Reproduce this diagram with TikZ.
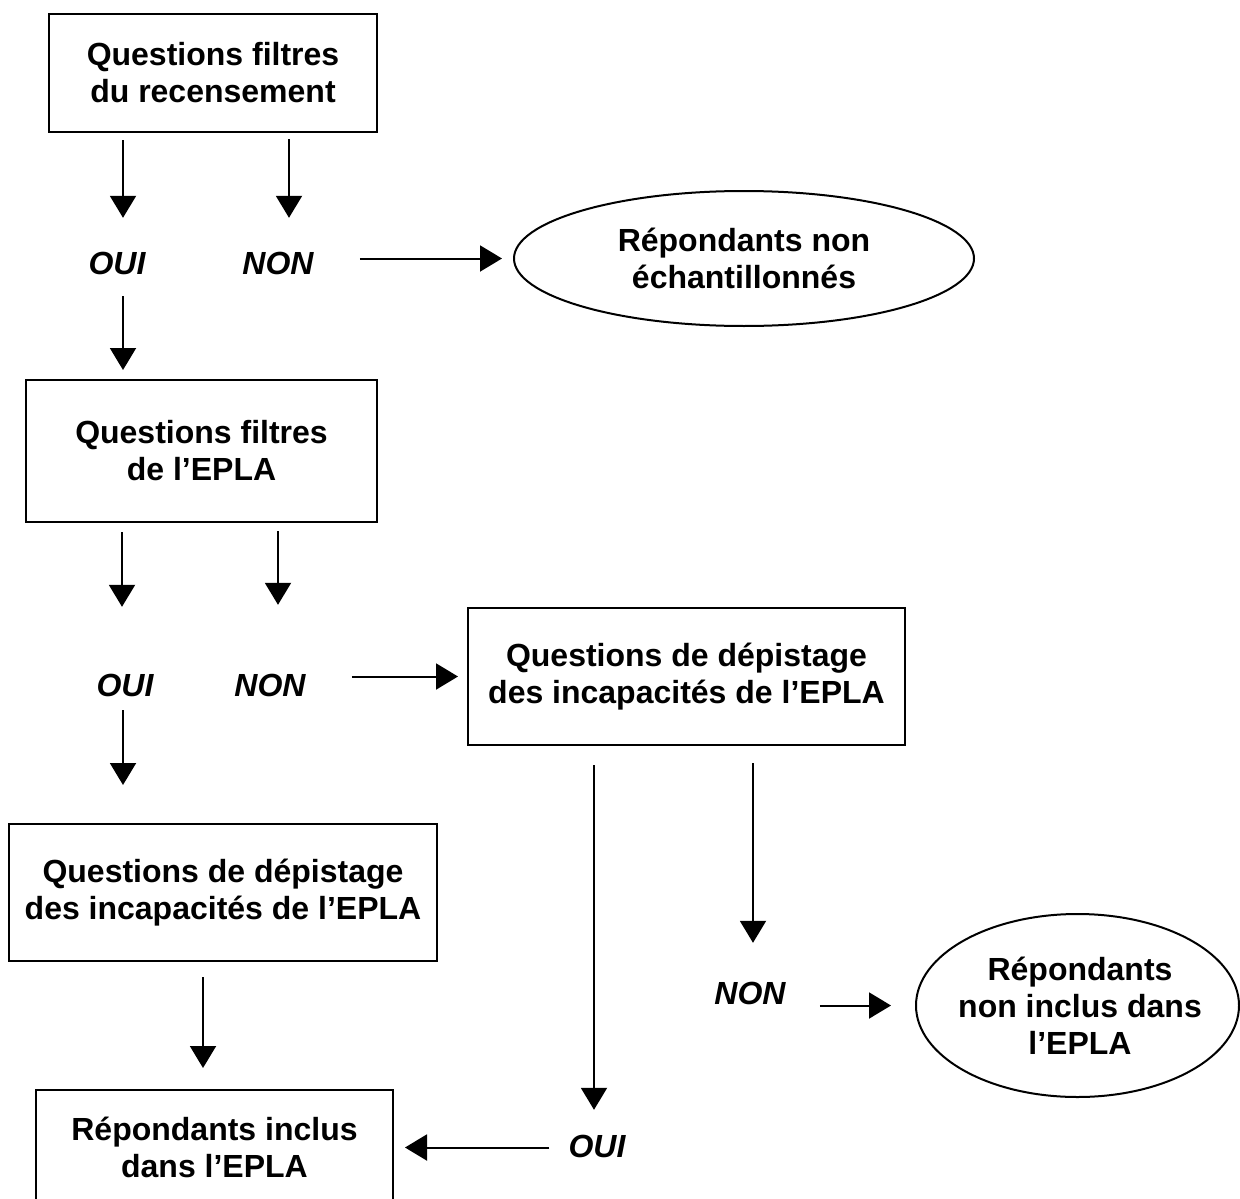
\documentclass[tikz,border=0pt]{standalone}
\usepackage{fontspec}
\setmainfont{Liberation Sans}
\usetikzlibrary{arrows.meta,shapes.geometric}
\begin{document}
\begin{tikzpicture}[x=1pt,y=-1pt,
  font=\fontsize{32}{37}\selectfont\bfseries,
  box/.style={draw,line width=2pt,rectangle,outer sep=0pt,inner sep=0pt,align=center},
  oval/.style={draw,line width=2pt,ellipse,outer sep=0pt,inner sep=0pt,align=center},
  lbl/.style={inner sep=0pt,text height=22pt,text depth=0pt,font=\fontsize{32}{37}\selectfont\bfseries\itshape},
  arr/.style={line width=2pt,-{Triangle[width=26pt,length=22pt]}}]
\useasboundingbox (0,0) rectangle (1240,1199);
% boxes
\node[box,minimum width=328pt,minimum height=118pt] (b1) at (213,73) {Questions filtres\\du recensement};
\node[box,minimum width=351pt,minimum height=142pt] (b2) at (201.5,451) {Questions filtres\\de l’EPLA};
\node[box,minimum width=437pt,minimum height=137pt] (b3) at (686.5,676.5) {Questions de dépistage\\des incapacités de l’EPLA};
\node[box,minimum width=428pt,minimum height=137pt] (b4) at (223,892.5) {Questions de dépistage\\des incapacités de l’EPLA};
\node[box,minimum width=357pt,minimum height=115pt] (b5) at (214.5,1147.5) {Répondants inclus\\dans l’EPLA};
\node[oval,minimum width=460pt,minimum height=135pt] (e1) at (744,258.5) {Répondants non\\échantillonnés};
\node[oval,minimum width=323pt,minimum height=183pt] (e2) at (1077.5,1005.5) {};
\node[align=center,inner sep=0pt] (e2t) at (1080,1006) {Répondants\\non inclus dans\\l’EPLA};
% labels
\node[lbl] (oui1) at (117,263) {OUI};
\node[lbl] (non1) at (278,263) {NON};
\node[lbl] (oui3) at (125,685) {OUI};
\node[lbl] (non2) at (270,685) {NON};
\node[lbl] (non3) at (750,993) {NON};
\node[lbl] (oui4) at (597,1146) {OUI};
% connectors
\draw[arr,shorten <=8pt,shorten >=34pt] ([xshift=-90pt]b1.south) -- ([xshift=-90pt]b1.south |- oui1.north);
\draw[arr,shorten <=7pt,shorten >=34pt] ([xshift=76pt]b1.south) -- ([xshift=76pt]b1.south |- non1.north);
\draw[arr,shorten <=22pt,shorten >=10pt] ([xshift=-78.5pt]b2.north |- oui1.south) -- ([xshift=-78.5pt]b2.north);
\draw[arr,shorten <=46pt,shorten >=12pt] (non1.east |- e1.west) -- (e1.west);
\draw[arr,shorten <=10pt,shorten >=67pt] ([xshift=-79.5pt]b2.south) -- ([xshift=-79.5pt]b2.south |- oui3.north);
\draw[arr,shorten <=9pt,shorten >=69pt] ([xshift=76.5pt]b2.south) -- ([xshift=76.5pt]b2.south |- non2.north);
\draw[arr,shorten <=46pt,shorten >=10pt] (non2.east |- b3.west) -- (b3.west);
\draw[arr,shorten <=14pt,shorten >=39pt] ([xshift=-100pt]b4.north |- oui3.south) -- ([xshift=-100pt]b4.north);
\draw[arr,shorten <=16pt,shorten >=22pt] ([xshift=-20pt]b4.south) -- ([xshift=-20pt]b4.south |- b5.north);
\draw[arr,shorten <=20pt,shorten >=25pt] ([xshift=-92.5pt]b3.south) -- ([xshift=-92.5pt]b3.south |- oui4.north);
\draw[arr,shorten <=18pt,shorten >=39pt] ([xshift=66.5pt]b3.south) -- ([xshift=66.5pt]b3.south |- non3.north);
\draw[arr,shorten <=34pt,shorten >=25pt] (non3.east |- e2.west) -- (e2.west);
\draw[arr,shorten <=19pt,shorten >=12pt] (oui4.west |- b5.east) -- (b5.east);
\end{tikzpicture}
\end{document}
